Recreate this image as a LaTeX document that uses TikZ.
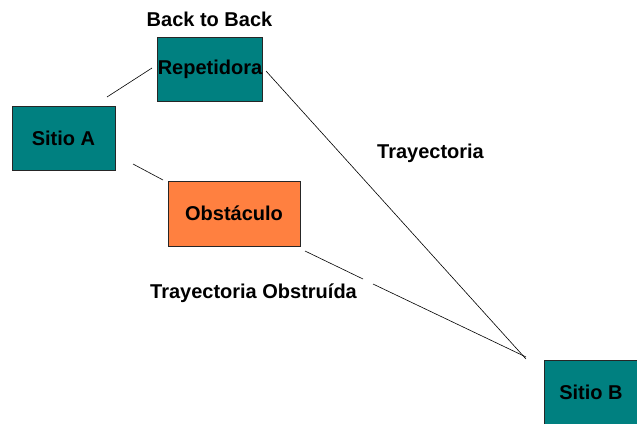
\documentclass[tikz,border=0pt]{standalone}
\usepackage{fontspec}
\setmainfont{Liberation Sans}
\usetikzlibrary{positioning}
\definecolor{Site}{HTML}{008080}
\definecolor{Block}{HTML}{FF8040}

\begin{document}
\begin{tikzpicture}[x=1pt,y=-1pt,
        box/.style={draw=black!85,line width=0.8pt,inner sep=0pt,
          font=\bfseries\fontsize{20}{21}\selectfont,align=center},
        txt/.style={inner sep=0pt,font=\bfseries\fontsize{20}{21}\selectfont},
        link/.style={draw=black,line width=0.6pt}]
        \useasboundingbox (0,0) rectangle (637,423);
        \node[box,fill=Site,minimum width=104pt,minimum height=64pt] (rep) at (210,69) {Repetidora};
        \node[box,fill=Site,minimum width=103pt,minimum height=64pt] (sa) at (63.5,138) {Sitio A};
        \node[box,fill=Block,minimum width=132pt,minimum height=65pt] (obs) at (234,213.5) {Obstáculo};
        \node[box,fill=Site,minimum width=94pt,minimum height=64pt] (sb) at (591,392) {Sitio B};
        \node[txt] (btb) at (209.5,19) {Back to Back};
        \node[txt,anchor=base] (tr) at (430.5,158) {Trayectoria};
        \node[txt,anchor=base] (tro) at (253.5,298) {Trayectoria Obstruída};
        % free ends of the links
        \coordinate (sa1) at (107,97);
        \coordinate (rep1) at (152,68);
        \coordinate (sa2) at (133,164);
        \coordinate (obs1) at (163,180);
        \coordinate (rep2) at (266,71);
        \coordinate (sb1) at (526,359);
        \coordinate (obs2) at (305,251);
        \coordinate (gap1) at (363,279);
        \coordinate (gap2) at (373,284);
        \coordinate (sb2) at (526,357);
        \draw[link] (sa1) -- (rep1);
        \draw[link] (sa2) -- (obs1);
        \draw[link] (rep2) -- (sb1);
        \draw[link] (obs2) -- (gap1);
        \draw[link] (gap2) -- (sb2);
      \end{tikzpicture}
\end{document}
